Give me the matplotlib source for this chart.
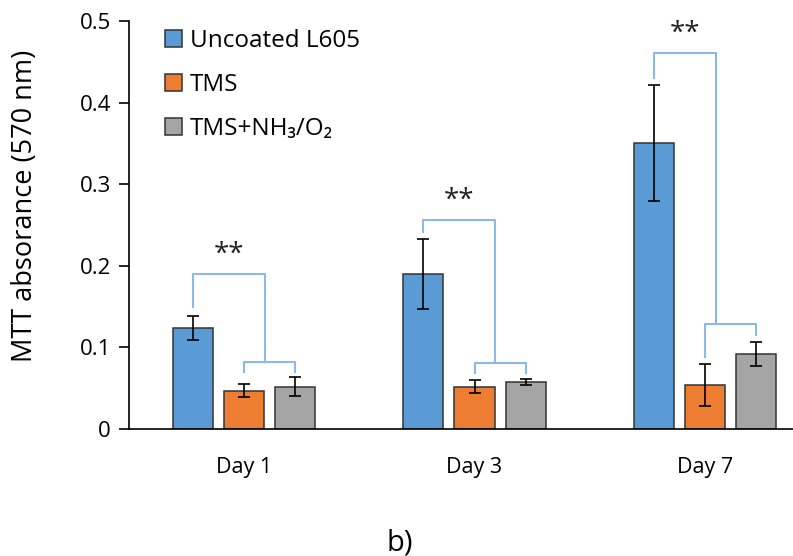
"""
MTT absorbance bar chart with significance brackets
"""

import numpy as np
import matplotlib
matplotlib.use("Agg")
import matplotlib.pyplot as plt

plt.rcParams['font.family'] = ['Open Sans', 'DejaVu Sans']

days = ["Day 1", "Day 3", "Day 7"]
groups = ["Uncoated L605", "TMS", "TMS+NH\u2083/O\u2082"]
means = [
    [0.124, 0.190, 0.350],   # Uncoated L605
    [0.047, 0.052, 0.054],   # TMS
    [0.052, 0.058, 0.092],   # TMS+NH3/O2
]
errs = [
    [0.015, 0.043, 0.071],
    [0.008, 0.008, 0.026],
    [0.012, 0.0035, 0.015],
]
colors = ["#5B9BD5", "#ED7D31", "#A5A5A5"]

# significance brackets (per day)
br_top = [0.190, 0.2565, 0.461]
br_left_low = [0.150, 0.241, 0.430]
br_mid = [0.0825, 0.081, 0.1287]
br_leg_orange = [0.070, 0.0686, 0.0886]
br_leg_gray = [0.070, 0.0686, 0.115]
br_drop_x = [0.09, 0.087, 0.048]
stars = ["**", "**", "**"]

W, H = 793, 556
fig = plt.figure(figsize=(W / 100, H / 100), dpi=100)
ax = fig.add_axes([129 / W, 127 / H, 691 / W, 408 / H])

x = np.arange(len(days))
width = 0.174
step = 0.222
for i, (g, c) in enumerate(zip(groups, colors)):
    ax.bar(x + (i - 1) * step, means[i], width, color=c, edgecolor="#333333",
           linewidth=1.1, label=g, zorder=2)
    ax.errorbar(x + (i - 1) * step, means[i], yerr=errs[i], fmt="none",
                ecolor="black", elinewidth=1.2, capsize=4, capthick=1.2, zorder=3)

bc = "#8EB8E5"
for d in range(len(days)):
    xl = d - step
    xo = d
    xg = d + step
    xv = d + br_drop_x[d]
    ax.plot([xl, xl, xv, xv], [br_left_low[d], br_top[d], br_top[d], br_mid[d]],
            color=bc, lw=1.5, zorder=1)
    ax.plot([xo, xo, xg, xg], [br_leg_orange[d], br_mid[d], br_mid[d], br_leg_gray[d]],
            color=bc, lw=1.5, zorder=1)
    ax.text((xl + xv) / 2, br_top[d] + 0.006, stars[d], ha="center", va="bottom",
            fontsize=20, color="#222222")

ax.set_xlim(-0.5, 2.5)
ax.set_ylim(0, 0.5)
ax.set_yticks([0, 0.1, 0.2, 0.3, 0.4, 0.5])
ax.set_yticklabels(["0", "0.1", "0.2", "0.3", "0.4", "0.5"])
ax.set_xticks(x)
ax.set_xticklabels(days)
ax.tick_params(axis="y", direction="out", length=7, width=1.2, labelsize=16, pad=6)
ax.tick_params(axis="x", length=0, labelsize=15.5, pad=20)
for s in ["top", "right"]:
    ax.spines[s].set_visible(False)
ax.spines["left"].set_linewidth(1.2)
ax.spines["bottom"].set_linewidth(1.2)

fig.text(25 / W, 1 - 206 / H, "MTT absorance (570 nm)", rotation=90,
         ha="center", va="center", fontsize=19.5)
fig.text(400 / W, 1 - 543 / H, "b)", ha="center", va="center", fontsize=21)

fig.legend(loc="upper left", bbox_to_anchor=(155 / W, 1 - 19 / H), frameon=False,
           fontsize=17.5, handlelength=0.7, handleheight=0.7, handletextpad=0.35,
           labelspacing=0.82, borderaxespad=0)

fig.savefig("out.png", dpi=100)
